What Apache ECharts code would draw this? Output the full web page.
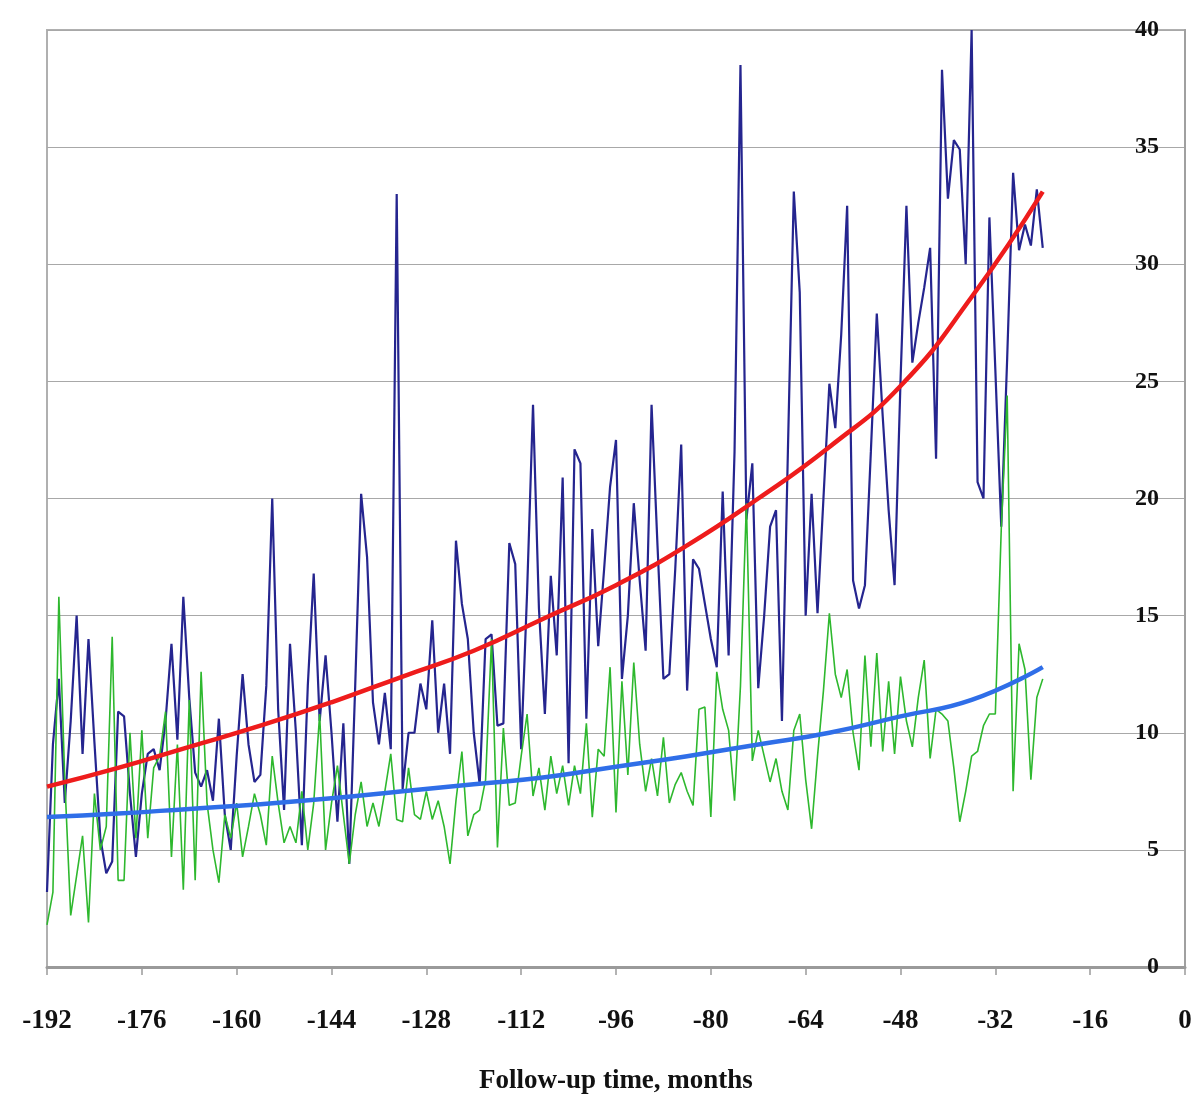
<!DOCTYPE html>
<html>
<head>
<meta charset="utf-8">
<script src="https://cdn.jsdelivr.net/npm/echarts@6/dist/echarts.min.js"></script>
<style>
html,body{margin:0;padding:0;background:#fff;}
#chart{width:1197px;height:1097px;}
</style>
</head>
<body>
<div id="chart"></div>
<script>
// Monthly series, first month = -192
const startMonth = -192;
const navySeries = [
3.2,9.5,12.3,7.0,10.5,15.0,9.1,14.0,9.6,5.5,4.0,4.5,10.9,10.7,7.4,4.7,7.4,9.1,9.3,8.4,
10.5,13.8,9.7,15.8,11.5,8.3,7.7,8.4,7.1,10.6,6.5,5.0,9.0,12.5,9.5,7.9,8.2,12.0,20.0,11.0,
6.7,13.8,10.0,5.2,12.0,16.8,10.5,13.3,10.0,6.2,10.4,4.4,12.0,20.2,17.5,11.3,9.5,11.7,9.3,33.0,
7.6,10.0,10.0,12.1,11.0,14.8,10.0,12.1,9.1,18.2,15.5,14.0,10.0,7.8,14.0,14.2,10.3,10.4,18.1,17.2,
9.3,16.0,24.0,15.3,10.8,16.7,13.3,20.9,8.7,22.1,21.5,10.6,18.7,13.7,17.0,20.5,22.5,12.3,15.0,19.8,
16.5,13.5,24.0,18.0,12.3,12.5,17.0,22.3,11.8,17.4,17.0,15.5,14.0,12.8,20.3,13.3,22.0,38.5,19.1,21.5,
11.9,15.0,18.8,19.5,10.5,22.0,33.1,28.8,15.0,20.2,15.1,20.0,24.9,23.0,27.0,32.5,16.5,15.3,16.3,22.0,
27.9,23.5,19.5,16.3,25.0,32.5,25.8,27.5,29.0,30.7,21.7,38.3,32.8,35.3,34.9,30.0,40.0,20.7,20.0,32.0,
25.5,18.8,26.0,33.9,30.6,31.7,30.8,33.2,30.7
];
const greenSeries = [
1.8,3.2,15.8,8.0,2.2,3.9,5.6,1.9,7.4,5.0,6.0,14.1,3.7,3.7,10.0,5.5,10.1,5.5,8.5,9.0,
10.9,4.7,9.5,3.3,11.4,3.7,12.6,7.0,5.0,3.6,6.5,5.5,7.0,4.7,6.0,7.4,6.5,5.2,9.0,7.0,
5.3,6.0,5.3,7.5,5.0,7.0,10.8,5.0,7.0,8.6,6.5,4.4,6.5,7.9,6.0,7.0,6.0,7.5,9.1,6.3,
6.2,8.5,6.5,6.3,7.5,6.3,7.1,6.0,4.4,7.1,9.2,5.6,6.5,6.7,8.0,14.0,5.1,10.2,6.9,7.0,
9.0,10.8,7.3,8.5,6.7,9.0,7.4,8.6,6.9,8.6,7.4,10.4,6.4,9.3,9.0,12.8,6.6,12.2,8.2,13.0,
9.5,7.5,8.9,7.3,9.8,7.0,7.8,8.3,7.5,6.9,11.0,11.1,6.4,12.6,11.0,10.1,7.1,12.0,19.8,8.8,
10.1,9.0,7.9,8.9,7.5,6.7,10.1,10.8,8.0,5.9,9.0,11.8,15.1,12.5,11.5,12.7,10.0,8.4,13.3,9.4,
13.4,9.2,12.2,9.1,12.4,10.5,9.4,11.5,13.1,8.9,11.0,10.8,10.5,8.5,6.2,7.5,9.0,9.2,10.3,10.8,
10.8,18.7,24.4,7.5,13.8,12.7,8.0,11.5,12.3
];
// Trend curves at 12-month steps
const trendMonths = [-192,-180,-168,-156,-144,-132,-120,-108,-96,-84,-72,-60,-48,-36,-24];
const redTrend  = [7.7,8.5,9.4,10.3,11.3,12.4,13.5,14.9,16.3,18.0,20.0,22.2,24.8,28.6,33.1];
const blueTrend = [6.4,6.55,6.75,6.95,7.2,7.5,7.8,8.1,8.55,9.0,9.5,10.0,10.7,11.4,12.8];
const xTicks = [-192,-176,-160,-144,-128,-112,-96,-80,-64,-48,-32,-16,0];
const yTicks = [0,5,10,15,20,25,30,35,40];

const pair = (arr) => arr.map((v, i) => [startMonth + i, v]);
const pairT = (arr) => arr.map((v, i) => [trendMonths[i], v]);

const chart = echarts.init(document.getElementById('chart'), null, {renderer: 'canvas'});
const serif = '"Liberation Serif", "DejaVu Serif", serif';
chart.setOption({
  animation: false,
  backgroundColor: '#ffffff',
  grid: {left: 47, right: 12, top: 30, bottom: 130, containLabel: false, outerBoundsMode: 'none',
    show: true, borderColor: '#b0b0b0', borderWidth: 2, backgroundColor: 'transparent'},
  xAxis: {
    type: 'value', min: -192, max: 0, interval: 16,
    name: 'Follow-up time, months', nameLocation: 'middle', nameGap: 101,
    nameTextStyle: {fontFamily: serif, fontWeight: 'bold', fontSize: 27, color: '#111'},
    axisLine: {show: true, onZero: false, lineStyle: {color: '#9a9a9a', width: 3}},
    axisTick: {show: true, length: 8, lineStyle: {color: '#9a9a9a', width: 1.5}},
    axisLabel: {margin: 41, fontFamily: serif, fontWeight: 'bold', fontSize: 27, color: '#111',
      formatter: v => xTicks.includes(v) ? String(v) : ''},
    splitLine: {show: false}
  },
  yAxis: {
    type: 'value', min: 0, max: 40, interval: 5, position: 'right',
    axisLine: {show: true, lineStyle: {color: '#a0a0a0', width: 2}},
    axisTick: {show: false},
    axisLabel: {inside: true, margin: 26, fontFamily: serif, fontWeight: 'bold', fontSize: 24, color: '#111',
      formatter: v => yTicks.includes(v) ? String(v) : ''},
    splitLine: {show: true, lineStyle: {color: '#a8a8a8', width: 1.2}}
  },
  series: [
    {type: 'line', data: pair(navySeries), showSymbol: false, lineStyle: {color: '#25258f', width: 2.2}, z: 2},
    {type: 'line', data: pair(greenSeries), showSymbol: false, lineStyle: {color: '#2eb82e', width: 1.6}, z: 3},
    {type: 'line', data: pairT(redTrend), smooth: true, showSymbol: false, lineStyle: {color: '#ee1c1c', width: 4.5}, z: 4},
    {type: 'line', data: pairT(blueTrend), smooth: true, showSymbol: false, lineStyle: {color: '#2f6ee8', width: 4.5}, z: 5}
  ]
});
</script>
</body>
</html>
